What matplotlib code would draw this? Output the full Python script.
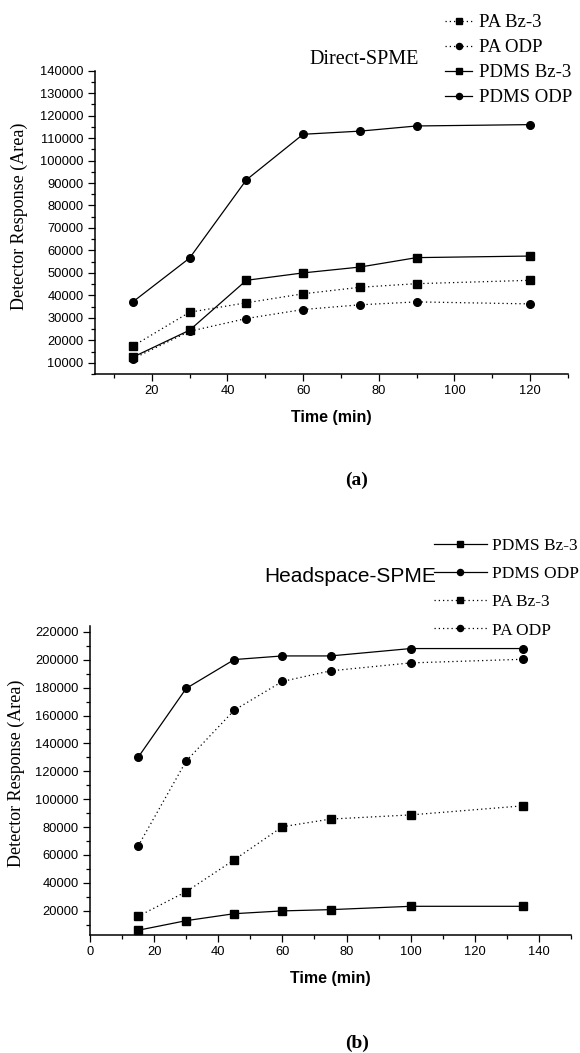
import numpy as np
import matplotlib
matplotlib.use("Agg")
import matplotlib.pyplot as plt
from matplotlib.ticker import MultipleLocator

# ---- data ----
# (a) Direct-SPME
t_a = [15, 30, 45, 60, 75, 90, 120]
a_pa_bz3 = [17400, 32500, 36700, 40700, 43600, 45200, 46700]
a_pa_odp = [11800, 24000, 29700, 33700, 35800, 37100, 36200]
a_pdms_bz3 = [12500, 24500, 46700, 50000, 52600, 56800, 57500]
a_pdms_odp = [37100, 56600, 91400, 111700, 113100, 115400, 116000]

# (b) Headspace-SPME
t_b = [15, 30, 45, 60, 75, 100, 135]
b_pdms_bz3 = [5900, 12800, 17800, 19800, 20700, 23100, 23100]
b_pdms_odp = [130000, 179500, 200200, 202800, 202800, 208100, 208100]
b_pa_bz3 = [15900, 33600, 56500, 80200, 85700, 88700, 95200]
b_pa_odp = [66300, 127400, 163900, 184500, 192100, 197800, 200400]

SERIF = "Liberation Serif"
SANS = "Liberation Sans"

W, H = 580, 1053
fig = plt.figure(figsize=(W / 100, H / 100), dpi=100)

def px_axes(left, top, right, bottom):
	return fig.add_axes([left / W, 1 - bottom / H, (right - left) / W, (bottom - top) / H])

def style_axes(ax, xmaj, xmin_, ymaj, ymin_):
	for s in ["top", "right"]:
		ax.spines[s].set_visible(False)
	for s in ["left", "bottom"]:
		ax.spines[s].set_linewidth(1.1)
	ax.xaxis.set_major_locator(MultipleLocator(xmaj))
	ax.xaxis.set_minor_locator(MultipleLocator(xmin_))
	ax.yaxis.set_major_locator(MultipleLocator(ymaj))
	ax.yaxis.set_minor_locator(MultipleLocator(ymin_))
	ax.tick_params(which="major", direction="out", length=5.2, width=0.9, labelsize=9.3, pad=3)
	ax.tick_params(which="minor", direction="out", length=2.6, width=0.9)
	for lab in ax.get_xticklabels() + ax.get_yticklabels():
		lab.set_family(SANS)

solid = dict(color="black", lw=0.9, ls="-")
dotted = dict(color="black", lw=0.9, ls=(0, (1, 2.4)))

# ---- (a) ----
ax1 = px_axes(95, 70.7, 568, 374)
ax1.plot(t_a, a_pa_bz3, marker="s", ms=5.5, label="PA Bz-3", **dotted)
ax1.plot(t_a, a_pa_odp, marker="o", ms=5.5, label="PA ODP", **dotted)
ax1.plot(t_a, a_pdms_bz3, marker="s", ms=5.5, label="PDMS Bz-3", **solid)
ax1.plot(t_a, a_pdms_odp, marker="o", ms=5.5, label="PDMS ODP", **solid)
ax1.set_xlim(5, 130)
ax1.set_ylim(5000, 140000)
style_axes(ax1, 20, 10, 10000, 5000)
ax1.set_xticks([20, 40, 60, 80, 100, 120])
ax1.set_xlabel("Time (min)", family=SANS, fontsize=11.5, fontweight="bold", labelpad=9)
leg1 = ax1.legend(loc="upper left", bbox_to_anchor=(445 / W, 1 - 14 / H), bbox_transform=fig.transFigure,
	frameon=False, prop={"family": SERIF, "size": 13.5}, handlelength=1.45, handletextpad=0.35,
	labelspacing=0.42, borderpad=0, borderaxespad=0, markerscale=0.8)
fig.text(364 / W, 1 - 59 / H, "Direct-SPME", family=SERIF, fontsize=14.5, ha="center", va="center")
fig.text(19 / W, 1 - 216 / H, "Detector Response (Area)", family=SERIF, fontsize=13, rotation=90,
	ha="center", va="center")
fig.text(357 / W, 1 - 480 / H, "(a)", family=SERIF, fontsize=14, fontweight="bold", ha="center", va="center")

# ---- (b) ----
ax2 = px_axes(90, 625.7, 571, 935)
ax2.plot(t_b, b_pdms_bz3, marker="s", ms=5.5, label="PDMS Bz-3", **solid)
ax2.plot(t_b, b_pdms_odp, marker="o", ms=5.5, label="PDMS ODP", **solid)
ax2.plot(t_b, b_pa_bz3, marker="s", ms=5.5, label="PA Bz-3", **dotted)
ax2.plot(t_b, b_pa_odp, marker="o", ms=5.5, label="PA ODP", **dotted)
ax2.set_xlim(0, 150)
ax2.set_ylim(2500, 224500)
style_axes(ax2, 20, 10, 20000, 10000)
ax2.set_xticks([0, 20, 40, 60, 80, 100, 120, 140])
ax2.set_xlabel("Time (min)", family=SANS, fontsize=11.5, fontweight="bold", labelpad=9)
leg2 = ax2.legend(loc="upper left", bbox_to_anchor=(434 / W, 1 - 538 / H), bbox_transform=fig.transFigure,
	frameon=False, prop={"family": SERIF, "size": 12.5}, handlelength=3.05, handletextpad=0.3,
	labelspacing=0.69, borderpad=0, borderaxespad=0, markerscale=0.8)
fig.text(350 / W, 1 - 577 / H, "Headspace-SPME", family=SANS, fontsize=15, ha="center", va="center")
fig.text(16 / W, 1 - 773 / H, "Detector Response (Area)", family=SERIF, fontsize=13, rotation=90,
	ha="center", va="center")
fig.text(357 / W, 1 - 1043 / H, "(b)", family=SERIF, fontsize=14, fontweight="bold", ha="center", va="center")

fig.savefig("out.png", dpi=100)
